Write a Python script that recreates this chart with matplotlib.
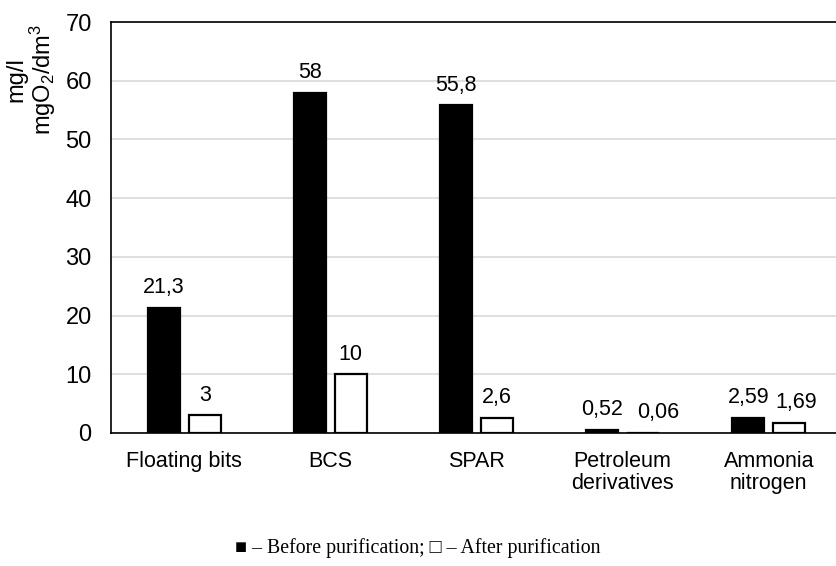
import numpy as np
import matplotlib.pyplot as plt

plt.rcParams['font.family'] = 'Liberation Sans'
plt.rcParams['mathtext.fontset'] = 'custom'
plt.rcParams['mathtext.rm'] = 'Liberation Sans'
plt.rcParams['mathtext.it'] = 'Liberation Sans'

categories = ['Floating bits', 'BCS', 'SPAR', 'Petroleum\nderivatives', 'Ammonia\nnitrogen']
before = [21.3, 58, 55.8, 0.52, 2.59]
after = [3, 10, 2.6, 0.06, 1.69]
before_labels = ['21,3', '58', '55,8', '0,52', '2,59']
after_labels = ['3', '10', '2,6', '0,06', '1,69']

fig = plt.figure(figsize=(8.36, 5.66), dpi=100)
ax = fig.add_axes([0.133, 0.235, 0.874, 0.726])

x = np.arange(len(categories))
w = 0.22
b1 = ax.bar(x - 0.14, before, w, color='black', edgecolor='black', linewidth=1.6, zorder=3)
b2 = ax.bar(x + 0.14, after, w, color='white', edgecolor='black', linewidth=1.6, zorder=3)

# push the crowded "after" labels sideways so they don't collide
nudge = {3: 11, 4: 5}

for k, (bars, labels) in enumerate(((b1, before_labels), (b2, after_labels))):
    for i, (rect, lab) in enumerate(zip(bars, labels)):
        dx = nudge.get(i, 0) if k == 1 else 0
        ax.annotate(lab, (rect.get_x() + rect.get_width() / 2, rect.get_height()),
                    xytext=(dx, 7), textcoords='offset points',
                    ha='center', va='bottom', fontsize=15.5)

ax.set_xlim(-0.5, 4.5)
ax.set_ylim(0, 70)
ax.set_yticks(range(0, 71, 10))
ax.set_xticks(x)
ax.set_xticklabels(categories, fontsize=15.5, linespacing=1.05)
ax.tick_params(axis='both', length=0)
ax.tick_params(axis='y', labelsize=17, pad=14)
ax.tick_params(axis='x', pad=13)
ax.yaxis.grid(True, color='#d9d9d9', linewidth=1.2, zorder=0)
ax.set_axisbelow(True)

for s in ('top', 'left', 'bottom'):
    ax.spines[s].set_color('black')
    ax.spines[s].set_linewidth(1.2)
ax.spines['right'].set_visible(False)

fig.text(0.038, 0.859, 'mg/l\nmgO$_2$/dm$^3$', rotation=90, ha='center', va='center',
         multialignment='center', fontsize=17, linespacing=1.0)

fig.text(0.5, 0.032, '\u25a0 \u2013 Before purification; \u25a1 \u2013 After purification',
         ha='center', va='center', fontsize=14.3, family=['Liberation Serif', 'DejaVu Serif'])

fig.savefig('out.png', dpi=100)
